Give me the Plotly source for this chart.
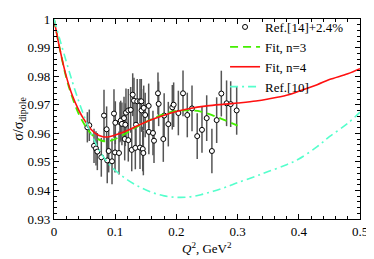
import plotly.graph_objects as go

# Data points: Ref.[14]+2.4%
data_x = [0.0545, 0.0577, 0.0654, 0.0686, 0.0708, 0.0773, 0.0817, 0.086, 0.087, 0.0894,
          0.0948, 0.098, 0.0997, 0.1002, 0.1062, 0.1078, 0.109, 0.111, 0.1144, 0.1155,
          0.1165, 0.1176, 0.1214, 0.1214, 0.1253, 0.127, 0.1286, 0.1307, 0.1329, 0.134,
          0.136, 0.1405, 0.1405, 0.1427, 0.143, 0.145, 0.146, 0.1466, 0.149, 0.1547,
          0.155, 0.1617, 0.1634, 0.1699, 0.171, 0.1786, 0.180, 0.1868, 0.1933, 0.1955,
          0.2032, 0.2108, 0.2178, 0.2255, 0.234, 0.2418, 0.2495, 0.258, 0.2658, 0.2734,
          0.282, 0.2887, 0.2985]
data_y = [0.9621, 0.9628, 0.9556, 0.9547, 0.9536, 0.9516, 0.9662, 0.9614, 0.9505, 0.9538,
          0.9502, 0.9669, 0.9533, 0.9637, 0.9531, 0.9639, 0.9644, 0.9633, 0.9653, 0.9580,
          0.9630, 0.9672, 0.9680, 0.9576, 0.9682, 0.9542, 0.9735, 0.9714, 0.9549, 0.9630,
          0.9712, 0.9550, 0.9712, 0.9712, 0.9680, 0.9545, 0.9531, 0.9689, 0.9664, 0.9696,
          0.9605, 0.9601, 0.9574, 0.9740, 0.9703, 0.9580, 0.9662, 0.9632, 0.9691, 0.9700,
          0.9671, 0.9740, 0.9664, 0.9687, 0.9590, 0.9612, 0.9653, 0.9538, 0.9646, 0.9739,
          0.9705, 0.9702, 0.9680]
data_err = [0.0053, 0.0055, 0.006, 0.006, 0.0065, 0.0068, 0.009, 0.008, 0.008, 0.0075,
            0.008, 0.0085, 0.007, 0.0075, 0.0075, 0.007, 0.007, 0.0075, 0.0075, 0.0075,
            0.0075, 0.0085, 0.0075, 0.0075, 0.008, 0.0075, 0.0075, 0.008, 0.0075, 0.0075,
            0.0078, 0.0075, 0.0078, 0.0078, 0.0075, 0.0078, 0.0078, 0.0078, 0.0078, 0.0078,
            0.0078, 0.0078, 0.0078, 0.0073, 0.0078, 0.008, 0.0078, 0.0078, 0.0078, 0.0078,
            0.0078, 0.008, 0.0078, 0.008, 0.008, 0.008, 0.008, 0.0078, 0.008, 0.008,
            0.008, 0.008, 0.0085]

# Fit, n=3 (green dashed)
fit3_x = [0, 0.01, 0.02, 0.03, 0.04, 0.05, 0.06, 0.07, 0.08, 0.09, 0.10, 0.12, 0.14,
          0.16, 0.18, 0.20, 0.22, 0.24, 0.26, 0.28, 0.30]
fit3_y = [1.0, 0.9890, 0.9795, 0.9725, 0.9670, 0.9630, 0.9600, 0.9582, 0.9573, 0.9573,
          0.9580, 0.9603, 0.9628, 0.9650, 0.9668, 0.9678, 0.9680, 0.9676, 0.9662, 0.9645,
          0.9627]

# Fit, n=4 (red)
fit4_x = [0, 0.01, 0.02, 0.03, 0.04, 0.05, 0.06, 0.07, 0.08, 0.09, 0.10, 0.12, 0.14,
          0.16, 0.18, 0.20, 0.22, 0.25, 0.28, 0.30, 0.33, 0.35, 0.38, 0.40, 0.43, 0.45,
          0.48, 0.50]
fit4_y = [1.0, 0.9890, 0.9800, 0.9732, 0.9683, 0.9645, 0.9615, 0.9596, 0.9588, 0.9588,
          0.9594, 0.9610, 0.9630, 0.9648, 0.9663, 0.9676, 0.9686, 0.9696, 0.9702, 0.9706,
          0.9713, 0.9720, 0.9733, 0.9747, 0.9770, 0.9788, 0.9808, 0.9826]

# Ref.[10] (cyan dash-dot)
ref10_x = [0, 0.01, 0.02, 0.03, 0.04, 0.05, 0.06, 0.07, 0.08, 0.09, 0.10, 0.12, 0.14,
           0.16, 0.18, 0.20, 0.22, 0.24, 0.26, 0.28, 0.30, 0.33, 0.35, 0.38, 0.40, 0.43,
           0.45, 0.48, 0.50]
ref10_y = [1.0, 0.9925, 0.9852, 0.9780, 0.9715, 0.9655, 0.9602, 0.9557, 0.9520, 0.9492,
           0.9470, 0.9437, 0.9412, 0.9393, 0.9381, 0.9376, 0.9377, 0.9385, 0.9397, 0.9411,
           0.9427, 0.9450, 0.9466, 0.9490, 0.9510, 0.9553, 0.9588, 0.9635, 0.9674]

# Tick labels
x_tickvals = [0, 0.1, 0.2, 0.3, 0.4, 0.5]
x_ticktext = ["0", "0.1", "0.2", "0.3", "0.4", "0.5"]
y_tickvals = [0.93, 0.94, 0.95, 0.96, 0.97, 0.98, 0.99, 1.0]
y_ticktext = ["0.93", "0.94", "0.95", "0.96", "0.97", "0.98", "0.99", "1"]
x_title = "<i>Q</i><sup>2</sup>, GeV<sup>2</sup>"
y_title = "σ/σ<sub>dipole</sub>"

font_family = "Liberation Serif, Times New Roman, serif"

fig = go.Figure()
fig.add_trace(go.Scatter(
    x=data_x, y=data_y, mode="markers", name="Ref.[14]+2.4%",
    marker=dict(symbol="circle", size=5, color="white",
                line=dict(color="black", width=1)),
    error_y=dict(type="data", array=data_err, visible=True, color="#555555",
                 thickness=1.5, width=0),
))
fig.add_trace(go.Scatter(
    x=fit3_x, y=fit3_y, mode="lines", name="Fit, n=3",
    line=dict(color="#44ee00", width=1.8, dash="8px,5px", shape="spline"),
))
fig.add_trace(go.Scatter(
    x=fit4_x, y=fit4_y, mode="lines", name="Fit, n=4",
    line=dict(color="#ff1010", width=1.6, shape="spline"),
))
fig.add_trace(go.Scatter(
    x=ref10_x, y=ref10_y, mode="lines", name="Ref.[10]",
    line=dict(color="#55ffcc", width=1.6, dash="8px,4px,2px,4px", shape="spline"),
))

axis_common = dict(
    showline=True, linecolor="black", linewidth=1.2, mirror="allticks",
    ticks="inside", ticklen=5, tickwidth=1, tickcolor="black",
    showgrid=False, zeroline=False, automargin=False,
    tickfont=dict(family=font_family, size=13, color="black"),
)

fig.update_xaxes(
    range=[0, 0.5], tickmode="array", tickvals=x_tickvals, ticktext=x_ticktext,
    minor=dict(ticks="inside", ticklen=2.5, dtick=0.02, tick0=0, tickcolor="black"),
    **axis_common,
)
fig.update_yaxes(
    range=[0.93, 1.0], tickmode="array", tickvals=y_tickvals, ticktext=y_ticktext,
    minor=dict(ticks="inside", ticklen=2.5, dtick=0.002, tick0=0.93, tickcolor="black"),
    title=dict(text=y_title,
               font=dict(family=font_family, size=14, color="black"), standoff=0),
    **axis_common,
)

fig.add_annotation(
    text=x_title, xref="paper", yref="paper", x=0.5, y=0,
    xanchor="center", yanchor="middle", yshift=-29, showarrow=False,
    font=dict(family=font_family, size=13, color="black"),
)

fig.update_layout(
    width=366, height=251,
    margin=dict(l=46, r=14, t=4, b=40),
    paper_bgcolor="white", plot_bgcolor="white",
    showlegend=True,
    legend=dict(x=0.559, y=1.035, xanchor="left", yanchor="top",
                bgcolor="rgba(0,0,0,0)", borderwidth=0,
                font=dict(family=font_family, size=13, color="black"),
                tracegroupgap=0),
    font=dict(family=font_family),
)

fig.write_html("out.html")
